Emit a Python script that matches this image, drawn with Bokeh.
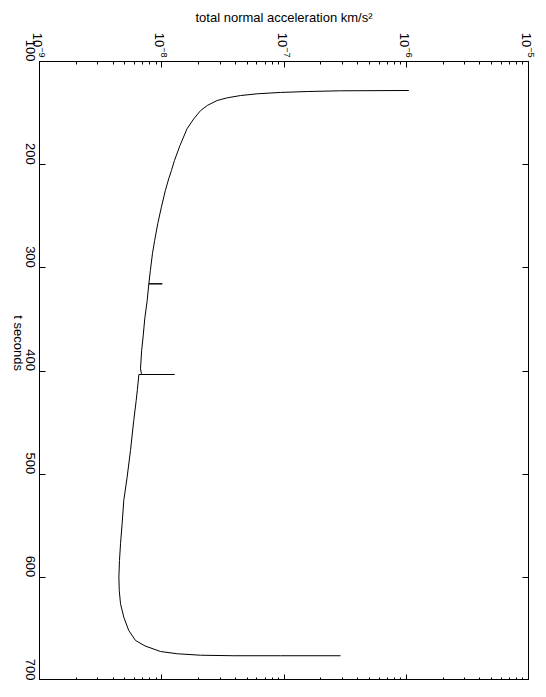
import math
from bokeh.plotting import figure
from bokeh.models import Range1d, LogAxis, LinearAxis, FixedTicker, LogTickFormatter, LogScale
from bokeh.embed import file_html
from bokeh.resources import INLINE

# time (s) and total normal acceleration (km/s^2)
t_seconds = [128.1, 128.4, 129.1, 130.0, 131.3, 133.0, 135.2, 137.8, 142.6, 147.5,
             155.5, 165.2, 181.4, 196.0, 205.7, 213.7, 225.1, 241.2, 257.3, 273.5,
             286.4, 302.6, 315.5, 315.5, 315.5, 331.7, 349.4, 366.0, 380.0, 397.9,
             402.5, 403.4, 403.4, 403.4, 418.0, 428.6, 448.0, 477.0, 502.9, 525.5,
             548.1, 567.5, 583.7, 599.8, 612.7, 625.6, 638.6, 651.5, 661.2, 666.5,
             671.9, 674.1, 675.5, 676.0, 676.0, 676.0]
accel = [1.05e-6, 2.90e-7, 1.55e-7, 9.35e-8, 6.04e-8, 4.41e-8, 3.43e-8, 2.84e-8, 2.36e-8, 2.08e-8,
         1.83e-8, 1.61e-8, 1.41e-8, 1.27e-8, 1.20e-8, 1.14e-8, 1.07e-8, 9.93e-9, 9.27e-9, 8.75e-9,
         8.39e-9, 8.07e-9, 7.84e-9, 1.01e-8, 7.84e-9, 7.60e-9, 7.26e-9, 7.05e-9, 6.85e-9, 6.70e-9,
         6.82e-9, 6.90e-9, 1.27e-8, 6.50e-9, 6.32e-9, 6.18e-9, 5.90e-9, 5.55e-9, 5.21e-9, 4.89e-9,
         4.74e-9, 4.60e-9, 4.51e-9, 4.46e-9, 4.49e-9, 4.60e-9, 4.89e-9, 5.37e-9, 6.10e-9, 7.30e-9,
         9.77e-9, 1.34e-8, 2.08e-8, 3.88e-8, 9.35e-8, 2.90e-7]

log_ticks = [1e-9, 1e-8, 1e-7, 1e-6, 1e-5]
log_minor = [m * 10.0 ** e for e in range(-9, -5) for m in range(2, 10)]
t_ticks = [100, 200, 300, 400, 500, 600, 700]

FONT = "Liberation Sans"

p = figure(frame_width=489, frame_height=619, x_axis_type=None, y_axis_type=None,
           x_range=Range1d(1e-9, 1e-5), y_range=Range1d(700, 100),
           output_backend="svg", toolbar_location=None,
           min_border_left=39, min_border_right=9, min_border_top=61, min_border_bottom=0)
p.x_scale = LogScale()
p.grid.visible = False
p.outline_line_color = "black"
p.outline_line_width = 1
p.background_fill_color = "white"
p.border_fill_color = "white"


def style(ax, labels=True):
    ax.axis_line_color = "black"
    ax.major_tick_line_color = "black"
    ax.minor_tick_line_color = "black"
    ax.major_tick_in = 6
    ax.major_tick_out = 0
    ax.minor_tick_in = 3
    ax.minor_tick_out = 0
    ax.major_label_text_font = FONT
    ax.major_label_text_font_size = "13px"
    ax.major_label_text_color = "black"
    ax.axis_label_text_font = FONT
    ax.axis_label_text_font_size = "13px"
    ax.axis_label_text_font_style = "normal"
    ax.axis_label_text_color = "black"
    if not labels:
        ax.major_label_text_font_size = "0px"
        ax.major_label_text_alpha = 0
        ax.major_label_standoff = 0


top = LogAxis(ticker=FixedTicker(ticks=log_ticks, minor_ticks=log_minor),
              formatter=LogTickFormatter(),
              axis_label="total normal acceleration km/s²")
style(top)
top.major_label_orientation = -math.pi / 2
top.major_label_standoff = 4
top.axis_label_standoff = 5
p.add_layout(top, "above")

bottom = LogAxis(ticker=FixedTicker(ticks=log_ticks, minor_ticks=log_minor))
style(bottom, labels=False)
p.add_layout(bottom, "below")

left = LinearAxis(ticker=FixedTicker(ticks=t_ticks, minor_ticks=[]), axis_label="t seconds")
style(left)
left.major_label_orientation = -math.pi / 2
left.axis_label_orientation = -math.pi / 2
left.major_label_standoff = 9
left.axis_label_standoff = 0
p.add_layout(left, "left")

right = LinearAxis(ticker=FixedTicker(ticks=t_ticks, minor_ticks=[]))
style(right, labels=False)
p.add_layout(right, "right")

p.line(accel, t_seconds, line_color="black", line_width=1)

open("out.html", "w").write(file_html(p, INLINE))
